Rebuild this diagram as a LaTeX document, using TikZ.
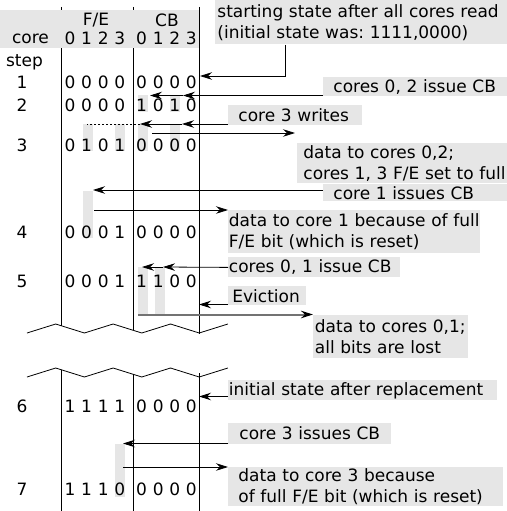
\documentclass[tikz,border=0pt]{standalone}
\usepackage{fontspec}
\setmainfont{DejaVu Sans}
\usetikzlibrary{arrows.meta}
\definecolor{boxgray}{HTML}{E6E6E6}
\newcommand\lblfont{\fontsize{17}{21}\selectfont\frenchspacing}
\tikzset{
  arr/.style={-{Stealth[length=12pt,width=7.5pt,inset=4pt,color=black]},line width=0.8pt},
  lbl/.style n args={3}{fill=boxgray,anchor=north west,align=left,inner ysep=0pt,inner xsep=#1,text width=#2,minimum height=#3},
}
\begin{document}
\begin{tikzpicture}[x=1pt,y=-1pt,font=\lblfont,line width=0.8pt]
  \useasboundingbox (0,0) rectangle (506,511);
  \foreach \x/\a/\b in {61/325.7/369.7, 133/330.2/374.2, 199/334/373}{
    \draw (\x,7) -- (\x,\a);
    \draw (\x,\b) -- (\x,511);
  }
  \foreach \z in {333,377}
    \draw (27,\z) \foreach \i in {1,...,7}{ -- ({27+28.7*\i},{\z-9*mod(\i,2)})};
  \fill[boxgray] (0,10) rectangle (198.6,48);
  \foreach \x/\a/\b in {143/95/112, 175/95/112, 87.5/124/151, 120/124/151, 143/124/151, 175/124/151,
                        87.5/191/238, 143/267/314, 160/267/314, 120/444/497}
    \fill[boxgray] (\x-5,\a) rectangle (\x+5,\b);
  \node (fe) at (96,20) {F/E};
  \node (cb) at (167,20) {CB};
  \node (core) at (30.5,39) {core};
  \node (step) at (24.5,62) {step};
  \foreach \v [count=\i] in {0,1,2,3,0,1,2,3}
    \node (h\i) at ({70+16.6*(\i-1)+5.2*(\i>4)},38) {\v};
  \foreach \r/\y/\bits in {1/82/{0,0,0,0,0,0,0,0}, 2/105/{0,0,0,0,1,0,1,0}, 3/145/{0,1,0,1,0,0,0,0},
                           4/232/{0,0,0,1,0,0,0,0}, 5/281/{0,0,0,1,1,1,0,0}, 6/406/{1,1,1,1,0,0,0,0},
                           7/489/{1,1,1,0,0,0,0,0}}{
    \node (s\r) at (22,\y) {\r};
    \foreach \v [count=\i] in \bits
      \node (d\r-\i) at ({70+16.6*(\i-1)+5.2*(\i>4)},\y) {\v};
  }
  \node[lbl={2pt}{300pt}{44pt}] (b1) at (215,0) {starting state after all cores read\\(initial state was: 1111,0000)};
  \node[lbl={10pt}{177pt}{19pt}] (b2) at (323,77) {cores 0, 2 issue CB};
  \node[lbl={10pt}{114pt}{20pt}] (b3) at (228,105) {core 3 writes};
  \node[lbl={10pt}{177pt}{17pt}] (b5) at (323,184) {core 1 issues CB};
  \node[lbl={6pt}{211pt}{40pt}] (b4) at (297,143) {data to cores 0,2;\\cores 1, 3 F/E set to full};
  \node[lbl={0.5pt}{251pt}{43pt}] (b6) at (228,210) {data to core 1 because of full\\F/E bit (which is reset)};
  \node[lbl={0.5pt}{171pt}{20pt}] (b7) at (228,257) {cores 0, 1 issue CB};
  \node[lbl={4pt}{70pt}{19pt}] (b8) at (228,286) {Eviction};
  \node[lbl={1.5pt}{152pt}{43pt}] (b9) at (313,314.5) {data to cores 0,1;\\all bits are lost};
  \node[lbl={0.5pt}{268pt}{20pt}] (b10) at (228,380) {initial state after replacement};
  \node[lbl={11pt}{141pt}{20.5pt}] (b11) at (228,423) {core 3 issues CB};
  \node[lbl={10pt}{255pt}{39pt}] (b12) at (228,467) {data to core 3 because\\of full F/E bit (which is reset)};
  \coordinate (t1) at (200,76);
  \draw[arr] ([xshift=70pt]b1.south west) |- (t1);
  \coordinate (t2a) at (150,95.5);
  \coordinate (t2b) at (183,95.5);
  \draw[arr] (b2.west |- t2b) -- (t2b);
  \draw[arr] (t2b) -- (t2a);
  \coordinate (t3a) at (140,124);
  \coordinate (t3b) at (182,124);
  \coordinate (t3c) at (87,124);
  \draw[arr] (b3.west |- t3b) -- (t3b);
  \draw[arr] (t3b) -- (t3a);
  \draw[dash pattern=on 2pt off 2pt] (t3a) -- (t3c);
  \coordinate (s4) at (152,133);
  \coordinate (t4) at (295,133);
  \draw[arr] (s4) -- (t4);
  \coordinate (t5) at (93,190);
  \draw[arr] (b5.west |- t5) -- (t5);
  \coordinate (s6) at (94,210);
  \draw[arr] (s6) -- (b6.north west);
  \coordinate (t7a) at (142,267);
  \coordinate (t7b) at (163,267);
  \draw[arr] (b7.west) -- (t7b);
  \draw[arr] (t7b) -- (t7a);
  \coordinate (t8) at (199,304.5);
  \draw[arr] (b8.west |- t8) -- (t8);
  \coordinate (s9) at (138,314.5);
  \draw[arr,line width=2pt,draw=black!55] (s9) -- (s9 -| b9.west);
  \coordinate (t10) at (199,396.5);
  \draw[arr] (b10.west |- t10) -- (t10);
  \coordinate (t11) at (123,443.5);
  \draw[arr] (b11.west |- t11) -- (t11);
  \coordinate (s12) at (123,467);
  \draw[arr] (s12) -- (b12.north west);
\end{tikzpicture}
\end{document}
